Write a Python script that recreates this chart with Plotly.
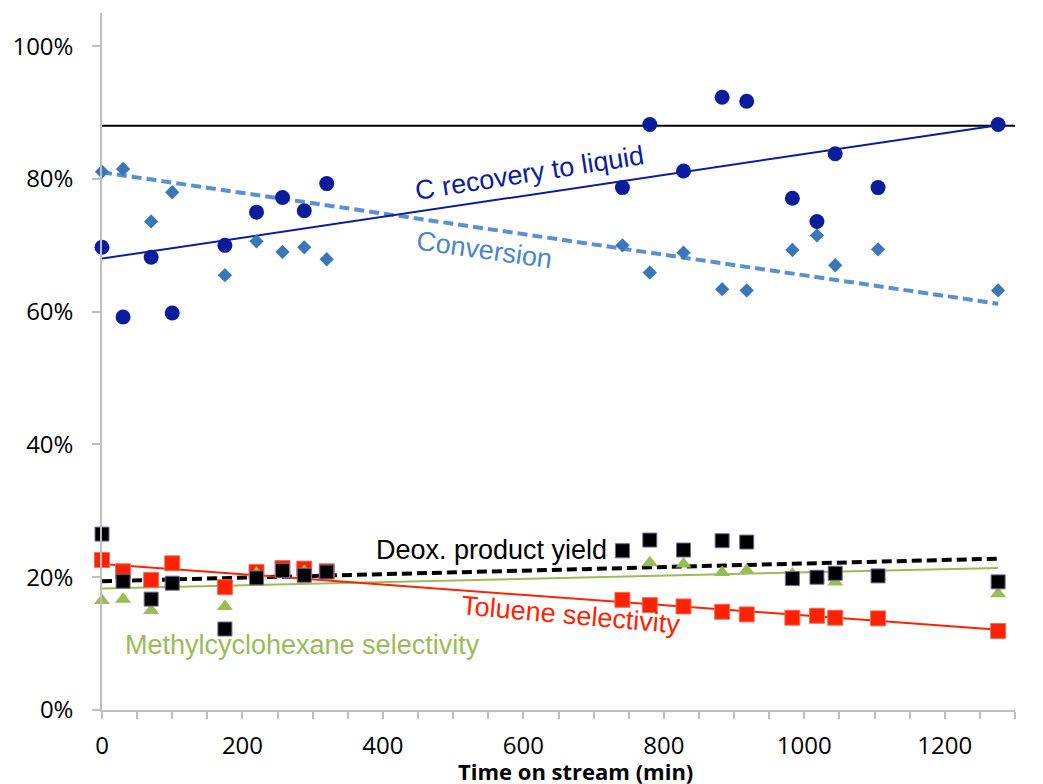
import plotly.graph_objects as go

# Sampling times (min on stream)
t_min = [0, 30, 70, 100, 175, 220, 257, 288, 320, 741, 780, 828, 883, 918,
         983, 1018, 1044, 1105, 1276]

# Measured fractions at each sampling time
c_recovery = [0.697, 0.592, 0.682, 0.598, 0.700, 0.750, 0.772, 0.752, 0.793,
              0.787, 0.882, 0.812, 0.923, 0.917, 0.771, 0.736, 0.838, 0.787, 0.882]
conversion = [0.811, 0.815, 0.736, 0.780, 0.655, 0.706, 0.690, 0.697, 0.679,
              0.700, 0.659, 0.689, 0.634, 0.632, 0.693, 0.715, 0.670, 0.694, 0.632]
deox_yield = [0.265, 0.194, 0.167, 0.191, 0.122, 0.199, 0.210, 0.203, 0.208,
              0.240, 0.256, 0.241, 0.255, 0.253, 0.198, 0.200, 0.206, 0.202, 0.193]
toluene_sel = [0.226, 0.209, 0.196, 0.221, 0.185, 0.208, 0.214, 0.213, 0.209,
               0.166, 0.158, 0.156, 0.148, 0.144, 0.139, 0.142, 0.139, 0.138, 0.119]
mch_sel = [0.165, 0.167, 0.150, 0.192, 0.156, 0.206, 0.207, 0.209, 0.207,
           0.234, 0.222, 0.220, 0.207, 0.210, 0.205, 0.200, 0.193, 0.201, 0.175]

# Linear trend lines (value at start and end of run)
trend_t = [0, 1276]
c_recovery_trend = [0.680, 0.881]
conversion_trend = [0.810, 0.612]
deox_trend = [0.194, 0.228]
toluene_trend = [0.220, 0.121]
mch_trend = [0.183, 0.214]

# Horizontal reference level
ref_t = [0, 1300]
ref_level = [0.88, 0.88]

DARK_BLUE = "#0b1d9b"
STEEL_BLUE = "#3a77b9"
LIGHT_BLUE = "#5a90cf"
RED = "#ff2200"
GREEN = "#9bbb59"
AXIS_GREY = "#bfbfbf"

fig = go.Figure()

# reference line
fig.add_trace(go.Scatter(x=ref_t, y=ref_level, mode="lines",
                         line=dict(color="black", width=2), hoverinfo="skip"))

# trend lines
fig.add_trace(go.Scatter(x=trend_t, y=conversion_trend, mode="lines",
                         line=dict(color=LIGHT_BLUE, width=4, dash="10px,5px")))
fig.add_trace(go.Scatter(x=trend_t, y=c_recovery_trend, mode="lines",
                         line=dict(color=DARK_BLUE, width=2)))
fig.add_trace(go.Scatter(x=trend_t, y=deox_trend, mode="lines",
                         line=dict(color="black", width=4, dash="10px,5px")))
fig.add_trace(go.Scatter(x=trend_t, y=mch_trend, mode="lines",
                         line=dict(color=GREEN, width=2)))
fig.add_trace(go.Scatter(x=trend_t, y=toluene_trend, mode="lines",
                         line=dict(color=RED, width=2)))

# data markers
fig.add_trace(go.Scatter(x=t_min, y=conversion, mode="markers", cliponaxis=False,
                         marker=dict(symbol="diamond", size=11, color=STEEL_BLUE,
                                     line=dict(width=0))))
fig.add_trace(go.Scatter(x=t_min, y=c_recovery, mode="markers", cliponaxis=False,
                         marker=dict(symbol="circle", size=15, color=DARK_BLUE,
                                     line=dict(width=0))))
fig.add_trace(go.Scatter(x=t_min, y=toluene_sel, mode="markers", cliponaxis=False,
                         marker=dict(symbol="square", size=15, color=RED,
                                     line=dict(width=1, color="#e8705e"))))
fig.add_trace(go.Scatter(x=t_min, y=mch_sel, mode="markers", cliponaxis=False,
                         marker=dict(symbol="triangle-up", size=14, color=GREEN,
                                     line=dict(width=0))))
fig.add_trace(go.Scatter(x=t_min, y=deox_yield, mode="markers", cliponaxis=False,
                         marker=dict(symbol="square", size=14, color="black",
                                     line=dict(width=1, color="#7a6699"))))

label_font = "Liberation Sans, Arial, sans-serif"
annotations = [
    dict(text="C recovery to liquid", x=609, y=0.809, textangle=-9,
         font=dict(color=DARK_BLUE, size=27, family=label_font)),
    dict(text="Conversion", x=545, y=0.693, textangle=8,
         font=dict(color="#4a86c8", size=27, family=label_font)),
    dict(text="Deox. product yield", x=555, y=0.241, textangle=0,
         font=dict(color="black", size=27, family=label_font)),
    dict(text="Toluene selectivity", x=668, y=0.143, textangle=5,
         font=dict(color=RED, size=27, family=label_font)),
    dict(text="Methylcyclohexane selectivity", x=285, y=0.098, textangle=0,
         font=dict(color=GREEN, size=27, family=label_font)),
]
for a in annotations:
    a.update(xref="x", yref="y", showarrow=False, xanchor="center", yanchor="middle")
annotations.append(dict(text="<b>Time on stream (min)</b>", xref="paper", yref="paper",
                        x=0.519, y=-0.087, showarrow=False, xanchor="center",
                        yanchor="middle",
                        font=dict(color="black", size=22, family="Open Sans")))

tick_font = dict(family="Open Sans", size=24, color="black")

fig.update_layout(
    width=1043, height=784,
    margin=dict(l=97, r=28, t=13, b=74),
    plot_bgcolor="white", paper_bgcolor="white",
    showlegend=False,
    annotations=annotations,
    xaxis=dict(range=[0, 1300], tick0=0, dtick=200, showgrid=False, zeroline=False,
               showline=True, linecolor=AXIS_GREY, linewidth=1.5,
               ticks="outside", ticklen=7, tickwidth=1.5, tickcolor=AXIS_GREY,
               minor=dict(dtick=50, ticks="outside", ticklen=7, tickwidth=1.5,
                          tickcolor=AXIS_GREY),
               tickfont=tick_font, ticklabelstandoff=6),
    yaxis=dict(range=[0, 1.05], tick0=0, dtick=0.2, tickformat=".0%",
               showgrid=False, zeroline=False,
               showline=True, linecolor=AXIS_GREY, linewidth=1.5,
               ticks="outside", ticklen=8, tickwidth=1.5, tickcolor=AXIS_GREY,
               tickfont=tick_font, ticklabelstandoff=14),
)

fig.write_html("out.html")
